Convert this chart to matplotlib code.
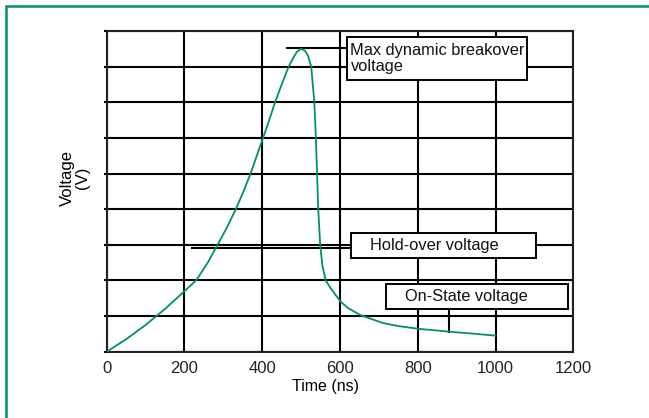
import numpy as np
import matplotlib.pyplot as plt
from matplotlib.patches import Rectangle

plt.rcParams['font.family'] = ['Liberation Sans', 'DejaVu Sans']

# Curva (tiempo en ns, voltaje en divisiones de la rejilla)
t_ns = [0, 50, 100, 150, 200, 230, 260, 285, 310, 332, 352, 370, 386, 402,
        418, 433, 450, 468, 480, 490, 500, 510, 518, 526, 530, 534, 538, 541,
        544, 549, 555, 563, 580, 602, 620, 652, 680, 712, 750, 804, 883, 950, 1000]
volt = [0, 0.35, 0.75, 1.2, 1.7, 2.0, 2.5, 3.0, 3.5, 4.0, 4.5, 5.0, 5.5, 6.0,
        6.5, 7.0, 7.5, 8.0, 8.25, 8.43, 8.5, 8.45, 8.3, 8.0, 7.5, 7.0, 6.0, 5.0,
        4.0, 3.0, 2.4, 2.0, 1.72, 1.40, 1.23, 1.03, 0.92, 0.80, 0.72, 0.64, 0.56, 0.50, 0.45]

x_ticks = [0, 200, 400, 600, 800, 1000, 1200]
y_grid = list(range(0, 10))

# Etiquetas: texto, caja (x0, x1, y0, y1)
labels = ['Max dynamic breakover\nvoltage', 'Hold-over voltage', 'On-State voltage']
boxes = [(619, 1081, 7.63, 8.82), (628, 1105, 2.62, 3.34), (718, 1187, 1.20, 1.90)]

fig = plt.figure(figsize=(6.49, 4.18), dpi=100)
ax = fig.add_axes([106.7 / 649, 1 - 351.7 / 418, (573.3 - 106.7) / 649, (351.7 - 31) / 418])

green = '#00935c'
ax.plot(t_ns, volt, color=green, lw=1.3, zorder=3)

ax.set_xlim(0, 1200)
ax.set_ylim(0, 9)
ax.set_xticks(x_ticks)
ax.set_yticks(y_grid)
ax.set_yticklabels([])
ax.grid(True, color='black', lw=1.5)
ax.tick_params(axis='x', length=0, labelsize=12, pad=7, colors='#222222')
ax.tick_params(axis='y', length=2, width=1.5, direction='out')
for s in ax.spines.values():
    s.set_linewidth(1.5)
    s.set_color('#222222')

# Lineas de referencia
ax.plot([463, 619], [8.52, 8.52], color='black', lw=1.5, zorder=2)
ax.plot([219, 628], [2.91, 2.91], color='black', lw=1.5, zorder=2)
ax.plot([881, 881], [0.56, 1.20], color='black', lw=1.5, zorder=2)

for (x0, x1, y0, y1), txt, i in zip(boxes, labels, range(3)):
    ax.add_patch(Rectangle((x0, y0), x1 - x0, y1 - y0, facecolor='white',
                           edgecolor='black', lw=1.4, zorder=4))
    pad = 8 if i == 0 else 50
    ax.text(x0 + pad, (y0 + y1) / 2, txt, fontsize=11.8, va='center', ha='left',
            linespacing=1.05, zorder=5, color='#111111')

fig.text(325 / 649, 1 - 386 / 418, 'Time (ns)', ha='center', va='center', fontsize=11.5)
fig.text(75 / 649, 1 - 178 / 418, 'Voltage\n(V)', ha='center', va='center',
         rotation=90, fontsize=12, multialignment='center', linespacing=1.0)

# Marco verde
fig.patches.append(Rectangle((5.8 / 649, -0.05), 1.1, 1 - 5.8 / 418 + 0.05,
                             transform=fig.transFigure, fill=False,
                             edgecolor=green, lw=1.8))

fig.savefig('out.png', dpi=100)
